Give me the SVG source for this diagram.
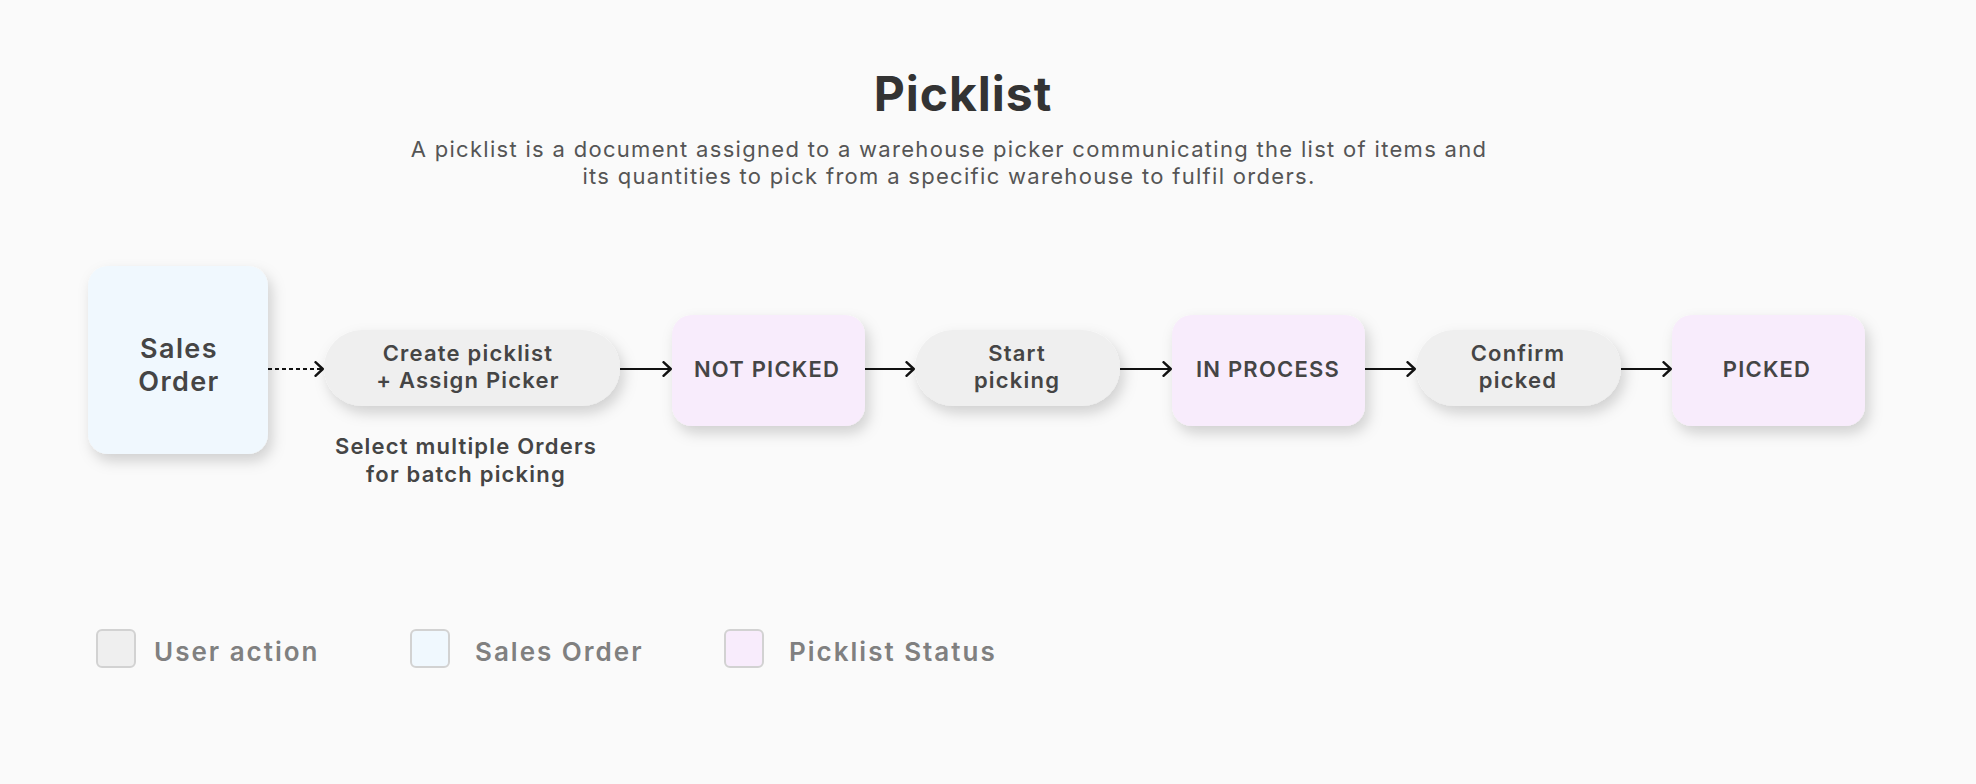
<svg xmlns="http://www.w3.org/2000/svg" width="1976" height="784" viewBox="0 0 1976 784">
  <defs>
    <filter id="shadow" x="-30%" y="-30%" width="170%" height="180%">
      <feDropShadow dx="4" dy="7" stdDeviation="7" flood-color="#000" flood-opacity="0.17"/>
    </filter>
    <marker id="arrow" viewBox="0 0 10 16" refX="9" refY="8" markerWidth="10" markerHeight="16" markerUnits="userSpaceOnUse" orient="auto">
      <path d="M1.5,1.2 L8.8,8 L1.5,14.8" fill="none" stroke="#111" stroke-width="2.4" stroke-linecap="round" stroke-linejoin="round"/>
    </marker>
  </defs>
  <style>
    .bg { fill: #fafafa; }
    .title { font-family: Inter, "Noto Sans", sans-serif; font-weight: 700; font-size: 48px; fill: #333333; text-anchor: middle; letter-spacing: 1px; }
    .sub { font-family: Inter, "Noto Sans", sans-serif; font-weight: 400; font-size: 22px; fill: #555555; text-anchor: middle; letter-spacing: 1.3px; }
    .so { fill: #f0f8fe; }
    .act { fill: #efefef; }
    .st { fill: #f8ecfc; }
    .lbl { font-family: Inter, "Noto Sans", sans-serif; font-weight: 600; font-size: 22px; fill: #454545; text-anchor: middle; letter-spacing: 1.2px; }
    .lblso { font-family: Inter, "Noto Sans", sans-serif; font-weight: 600; font-size: 27px; fill: #454545; text-anchor: middle; letter-spacing: 1.4px; }
    .conn { stroke: #111; stroke-width: 2; fill: none; }
    .dot { stroke-dasharray: 4 3; }
    .lg { stroke: #d2d2d2; stroke-width: 2; }
    .lgt { font-family: Inter, "Noto Sans", sans-serif; font-weight: 600; font-size: 26px; fill: #808080; letter-spacing: 2px; }
  </style>

  <rect class="bg" x="0" y="0" width="1976" height="784"/>

  <g id="header">
    <text class="title" x="963" y="111">Picklist</text>
    <text class="sub" x="949" y="157">A picklist is a document assigned to a warehouse picker communicating the list of items and</text>
    <text class="sub" x="949" y="184">its quantities to pick from a specific warehouse to fulfil orders.</text>
  </g>

  <g id="connectors">
    <line class="conn dot" x1="268" y1="369" x2="323" y2="369" marker-end="url(#arrow)"/>
    <line class="conn" x1="620" y1="369" x2="671" y2="369" marker-end="url(#arrow)"/>
    <line class="conn" x1="865" y1="369" x2="914" y2="369" marker-end="url(#arrow)"/>
    <line class="conn" x1="1120" y1="369" x2="1171" y2="369" marker-end="url(#arrow)"/>
    <line class="conn" x1="1365" y1="369" x2="1415" y2="369" marker-end="url(#arrow)"/>
    <line class="conn" x1="1621" y1="369" x2="1671" y2="369" marker-end="url(#arrow)"/>
  </g>

  <g id="sales-order">
    <rect class="so" x="88" y="266" width="180" height="188" rx="20" filter="url(#shadow)"/>
    <text class="lblso" x="179" y="358">Sales</text>
    <text class="lblso" x="179" y="391">Order</text>
  </g>

  <g id="create-picklist">
    <rect class="act" x="324" y="330" width="296" height="76" rx="38" filter="url(#shadow)"/>
    <text class="lbl" x="468" y="361">Create picklist</text>
    <text class="lbl" x="468" y="388">+ Assign Picker</text>
  </g>

  <g id="batch-note">
    <text class="lbl" x="466" y="454">Select multiple Orders</text>
    <text class="lbl" x="466" y="482">for batch picking</text>
  </g>

  <g id="not-picked">
    <rect class="st" x="672" y="315" width="193" height="111" rx="20" filter="url(#shadow)"/>
    <text class="lbl" x="767" y="377">NOT PICKED</text>
  </g>

  <g id="start-picking">
    <rect class="act" x="915" y="330" width="205" height="76" rx="38" filter="url(#shadow)"/>
    <text class="lbl" x="1017" y="361">Start</text>
    <text class="lbl" x="1017" y="388">picking</text>
  </g>

  <g id="in-process">
    <rect class="st" x="1172" y="315" width="193" height="111" rx="20" filter="url(#shadow)"/>
    <text class="lbl" x="1268" y="377">IN PROCESS</text>
  </g>

  <g id="confirm-picked">
    <rect class="act" x="1416" y="330" width="205" height="76" rx="38" filter="url(#shadow)"/>
    <text class="lbl" x="1518" y="361">Confirm</text>
    <text class="lbl" x="1518" y="388">picked</text>
  </g>

  <g id="picked">
    <rect class="st" x="1672" y="315" width="193" height="111" rx="20" filter="url(#shadow)"/>
    <text class="lbl" x="1767" y="377">PICKED</text>
  </g>

  <g id="legend">
    <rect class="act lg" x="97" y="630" width="38" height="37" rx="5"/>
    <text class="lgt" x="154" y="661">User action</text>
    <rect class="so lg" x="411" y="630" width="38" height="37" rx="5"/>
    <text class="lgt" x="475" y="661">Sales Order</text>
    <rect class="st lg" x="725" y="630" width="38" height="37" rx="5"/>
    <text class="lgt" x="789" y="661">Picklist Status</text>
  </g>
</svg>
